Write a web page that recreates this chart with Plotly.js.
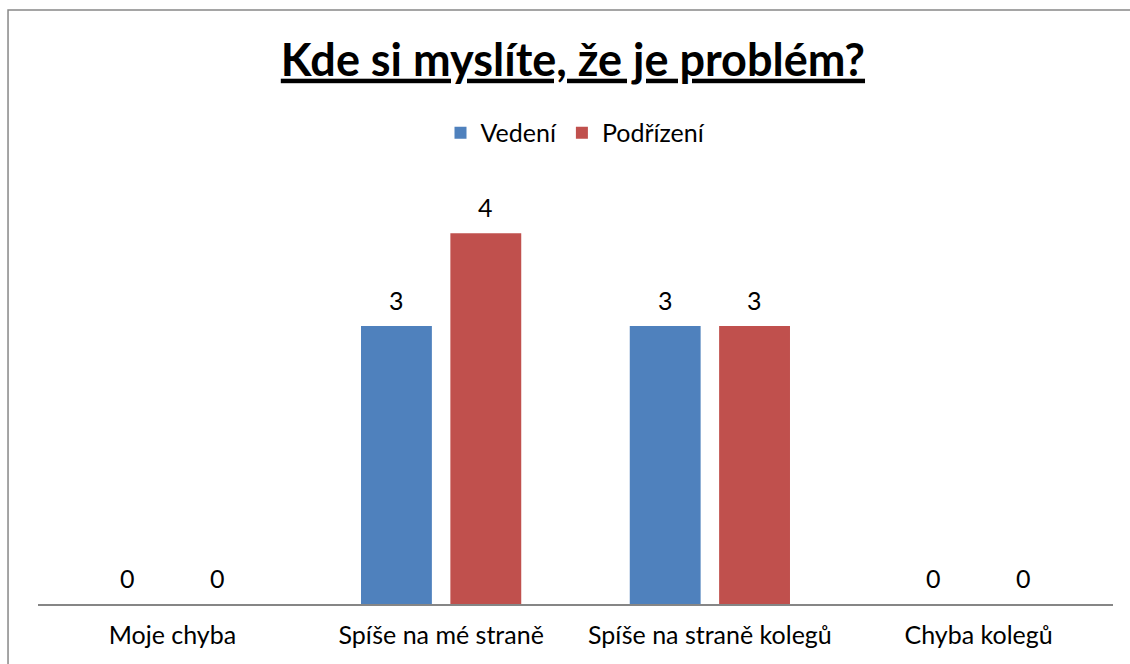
<!DOCTYPE html>
<html>
<head>
<meta charset="utf-8">
<script src="https://cdn.plot.ly/plotly-3.0.1.min.js"></script>
<style>html,body{margin:0;padding:0;background:#fff;}#chart{width:1130px;height:664px;}</style>
</head>
<body>
<div id="chart"></div>
<script>
const categories = ["Moje chyba", "Spíše na mé straně", "Spíše na straně kolegů", "Chyba kolegů"];
const seriesNames = ["Vedení", "Podřízení"];
const vedeni = [0, 3, 3, 0];
const podrizeni = [0, 4, 3, 0];
const titleText = "Kde si myslíte, že je problém?";

const FONT = "Lato, 'Open Sans', sans-serif";
const colors = ["#4F81BD", "#C0504D"];
const seriesValues = [vedeni, podrizeni];

const traces = seriesValues.map((vals, i) => ({
  type: "bar",
  name: seriesNames[i],
  x: categories,
  y: vals,
  marker: {color: colors[i]},
  hoverinfo: "x+y+name"
}));

const offsets = [-44.75, 44.75];
const annotations = [];
seriesValues.forEach((vals, i) => {
  vals.forEach((v, j) => {
    annotations.push({
      x: categories[j], y: v, xref: "x", yref: "y",
      text: String(v), showarrow: false,
      xshift: offsets[i], yshift: 26,
      yanchor: "middle", xanchor: "center",
      font: {family: FONT, size: 25, color: "#000"}
    });
  });
});

const layout = {
  width: 1130, height: 664,
  margin: {l: 37.5, r: 16.5, t: 187, b: 60},
  paper_bgcolor: "#fff", plot_bgcolor: "#fff",
  font: {family: FONT, size: 25, color: "#000"},
  title: {
    text: "<b><u>" + titleText + "</u></b>",
    font: {family: FONT, size: 45, color: "#000"},
    x: 0.507, xanchor: "center", y: 0.9097, yanchor: "middle"
  },
  barmode: "group",
  bargap: 0.335,
  bargroupgap: 0.207,
  showlegend: true,
  legend: {
    orientation: "h", x: 0.5, xanchor: "center", y: 1.1295, yanchor: "middle",
    font: {family: FONT, size: 25, color: "#000"},
    itemwidth: 30, traceorder: "normal"
  },
  xaxis: {
    type: "category",
    showline: true, linecolor: "#868686", linewidth: 1.5,
    ticks: "", showgrid: false, zeroline: false,
    tickfont: {family: FONT, size: 25, color: "#000"},
    ticklabelstandoff: 8,
    fixedrange: true
  },
  yaxis: {
    range: [0, 4.5], visible: false, showgrid: false, zeroline: false,
    fixedrange: true
  },
  annotations: annotations,
  shapes: [{
    type: "rect", xref: "paper", yref: "paper",
    x0: (7.5 - 37.5) / 1076, x1: 1.1,
    y0: -0.3, y1: (604 - 10) / 417,
    line: {color: "#888888", width: 1.5}, fillcolor: "rgba(0,0,0,0)",
    layer: "below"
  }]
};

Plotly.newPlot("chart", traces, layout, {displayModeBar: false, staticPlot: true});
</script>
</body>
</html>
